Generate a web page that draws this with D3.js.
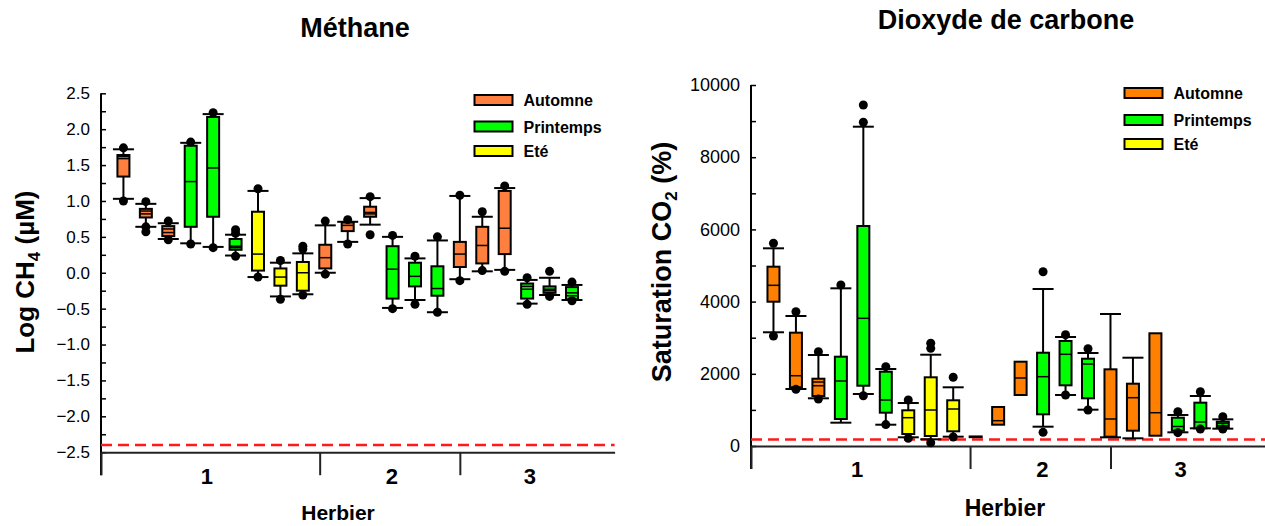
<!DOCTYPE html>
<html>
<head>
<meta charset="utf-8">
<script src="https://cdn.jsdelivr.net/npm/d3@7"></script>
<style>
  body { margin: 0; background: #fff; }
  text { font-family: "Liberation Sans", Arial, sans-serif; }
</style>
</head>
<body>
<svg id="chart" width="1265" height="526"></svg>
<script>
// Categories
const seasons = ['Automne', 'Printemps', 'Eté'];
const herbierLabels = ['1', '2', '3'];
const herbierPos = [4.7, 12.95, 19.1];
const herbierBreaks = [0, 9.75, 16];
const boxPos = [1, 2, 3, 4, 5, 6, 7, 8, 9, 10, 11, 12, 13, 14, 15, 16, 17, 18, 19, 20, 21];

// Méthane (log CH4, µM)
const ch4Season = [0, 0, 0, 1, 1, 1, 2, 2, 2, 0, 0, 0, 1, 1, 1, 0, 0, 0, 1, 1, 1];
const ch4Low  = [1.03, 0.64, 0.47, 0.41, 0.36, 0.24, -0.06, -0.33, -0.30, 0.00, 0.43, 0.67, -0.49, -0.38, -0.55, -0.09, 0.02, 0.04, -0.43, -0.31, -0.38];
const ch4Q1   = [1.34, 0.77, 0.51, 0.64, 0.78, 0.32, 0.03, -0.18, -0.25, 0.06, 0.58, 0.78, -0.36, -0.19, -0.32, 0.08, 0.13, 0.26, -0.36, -0.28, -0.37];
const ch4Med  = [1.62, 0.86, 0.61, 1.27, 1.46, 0.35, 0.26, -0.06, 0.00, 0.21, 0.66, 0.84, 0.05, -0.05, -0.22, 0.26, 0.38, 0.62, -0.19, -0.23, -0.32];
const ch4Mean = [1.59, 0.82, 0.56, null, null, 0.37, null, null, null, null, null, 0.82, null, null, null, null, null, null, -0.23, -0.25, -0.28];
const ch4Q3   = [1.64, 0.89, 0.65, 1.77, 2.17, 0.47, 0.85, 0.06, 0.15, 0.39, 0.70, 0.92, 0.37, 0.14, 0.09, 0.43, 0.64, 1.14, -0.15, -0.19, -0.20];
const ch4High = [1.72, 0.96, 0.69, 1.81, 2.21, 0.53, 1.14, 0.14, 0.27, 0.66, 0.71, 1.04, 0.50, 0.20, 0.45, 1.07, 0.78, 1.18, -0.10, -0.07, -0.17];
const ch4Out  = [[1.00, 1.74], [0.57, 0.64, 0.99], [0.46, 0.72], [0.40, 1.82], [0.35, 2.23], [0.23, 0.55, 0.60],
                 [-0.06, 1.17], [-0.37, 0.17], [-0.31, 0.33, 0.37], [-0.02, 0.72], [0.40, 0.74], [0.53, 1.06],
                 [-0.50, 0.52], [-0.44, 0.23], [-0.55, 0.50], [-0.11, 1.08], [0.03, 0.85], [0.02, 1.21],
                 [-0.44, -0.07], [-0.33, 0.02], [-0.39, -0.13]];
const ch4Limit = -2.4;
const ch4Ticks = [-2.5, -2.0, -1.5, -1.0, -0.5, 0.0, 0.5, 1.0, 1.5, 2.0, 2.5];

// Dioxyde de carbone (saturation CO2, %)
const co2Season = [0, 0, 0, 1, 1, 1, 2, 2, 2, 0, 0, 0, 1, 1, 1, 0, 0, 0, 1, 1, 1];
const co2Low  = [3150, 1579, 1321, 646, 1440, 590, 241, 185, 258, null, null, null, 535, 1413, 1006, 240, 213, null, 379, 490, 480];
const co2Q1   = [3997, 1626, 1385, 748, 1670, 923, 332, 277, 407, 245, 590, 1413, 878, 1681, 1321, 258, 424, 285, 424, 490, 517];
const co2Med  = [4451, 1947, 1670, 1801, 3537, 1274, 784, 997, 1025, 255, 701, 1884, 1920, 2540, 2271, 748, 1338, 922, 540, 665, 563];
const co2Mean = [null, null, 1773, null, null, null, null, null, null, null, null, null, null, null, null, null, null, null, null, null, 628];
const co2Q3   = [4967, 3139, 1864, 2474, 6094, 2058, 989, 1903, 1266, 265, 1080, 2335, 2584, 2909, 2418, 2124, 1726, 3122, 784, 1200, 674];
const co2High = [5476, 3601, 2521, 4368, 8845, 2133, 1191, 2529, 1626, null, null, null, 4349, 3019, 2576, 3656, 2446, null, 859, 1385, 739];
const co2Out  = [[3047, 5615], [1570, 3720], [1302, 2612], [4460], [1393, 8967, 9446], [593, 2197],
                 [213, 1274], [91, 2706, 2845], [249, 1903], [], [], [],
                 [379, 4828], [1413, 3083], [997, 2695], [], [], [],
                 [370, 950], [471, 1504], [471, 812]];
const co2Limit = 180;
const co2Ticks = [0, 2000, 4000, 6000, 8000, 10000];

const svg = d3.select('#chart');

function drawPanel(p) {
    const g = svg.append('g');

    const xScale = d3.scaleLinear().domain([0, 22.9]).range([p.left, p.right]);
    const yScale = d3.scaleLinear().domain(p.yDomain).range([p.bottom, p.top]);
    const axisY = yScale(p.yDomain[0]);

    // minor y ticks
    const minor = [];
    for (let i = 0; i < p.ticks.length - 1; i++) minor.push((p.ticks[i] + p.ticks[i + 1]) / 2);
    g.append('g')
        .attr('transform', `translate(${p.left},0)`)
        .call(d3.axisLeft(yScale).tickValues(minor).tickFormat('').tickSizeInner(-5).tickSizeOuter(0))
        .call(a => a.select('.domain').remove())
        .selectAll('line').attr('stroke-width', 1.5);

    // y axis with labels
    g.append('g')
        .attr('transform', `translate(${p.left},0)`)
        .call(d3.axisLeft(yScale).tickValues(p.ticks).tickFormat(p.fmt).tickSizeInner(-5).tickSizeOuter(0).tickPadding(11))
        .call(a => a.select('.domain').remove())
        .call(a => a.selectAll('line').attr('stroke-width', 1.5))
        .call(a => a.selectAll('text').style('font-size', p.tickFont + 'px').attr('fill', '#000')
            .style('font-family', '"Liberation Sans", Arial, sans-serif'));

    // y axis line, running down past the x axis
    g.append('line')
        .attr('x1', p.left).attr('x2', p.left)
        .attr('y1', p.top).attr('y2', axisY + 23)
        .attr('stroke', '#000').attr('stroke-width', 2);

    // x axis with herbier separators
    g.append('g')
        .attr('transform', `translate(0,${axisY})`)
        .call(d3.axisBottom(xScale).tickValues(herbierBreaks).tickFormat('').tickSizeInner(23).tickSizeOuter(0))
        .call(a => a.select('.domain').attr('stroke', '#222').attr('stroke-width', 2))
        .selectAll('line').attr('stroke', '#222').attr('stroke-width', 2);

    g.append('g')
        .attr('transform', `translate(0,${axisY})`)
        .call(d3.axisBottom(xScale).tickValues(herbierPos).tickFormat((d, i) => herbierLabels[i]).tickSize(0).tickPadding(p.groupPad))
        .call(a => a.select('.domain').remove())
        .selectAll('text')
        .style('font-size', '22px').style('font-weight', 'bold').attr('fill', '#000')
        .style('font-family', '"Liberation Sans", Arial, sans-serif');

    // detection limit
    g.append('line')
        .attr('x1', p.left).attr('x2', p.right)
        .attr('y1', yScale(p.limit)).attr('y2', yScale(p.limit))
        .attr('stroke', '#ff1a1a').attr('stroke-width', 2.5)
        .attr('stroke-dasharray', '11,6');

    const boxW = 12, capW = 21;

    boxPos.forEach((pos, i) => {
        const x = xScale(pos);
        const bx = g.append('g');

        // whiskers and caps
        [[p.low[i], p.q1[i]], [p.high[i], p.q3[i]]].forEach(([w, q]) => {
            if (w == null) return;
            bx.append('line')
                .attr('x1', x).attr('x2', x)
                .attr('y1', yScale(w)).attr('y2', yScale(q))
                .attr('stroke', '#000').attr('stroke-width', 2);
            bx.append('line')
                .attr('x1', x - capW / 2).attr('x2', x + capW / 2)
                .attr('y1', yScale(w)).attr('y2', yScale(w))
                .attr('stroke', '#000').attr('stroke-width', 2);
        });

        // box
        bx.append('rect')
            .attr('x', x - boxW / 2)
            .attr('y', yScale(p.q3[i]))
            .attr('width', boxW)
            .attr('height', Math.max(yScale(p.q1[i]) - yScale(p.q3[i]), 0.5))
            .attr('fill', p.colors[p.season[i]])
            .attr('stroke', '#000').attr('stroke-width', 2);

        // median and mean
        [p.med[i], p.mean[i]].forEach(v => {
            if (v == null) return;
            bx.append('line')
                .attr('x1', x - boxW / 2).attr('x2', x + boxW / 2)
                .attr('y1', yScale(v)).attr('y2', yScale(v))
                .attr('stroke', '#000').attr('stroke-width', 1.5);
        });

        // outliers
        bx.selectAll('circle')
            .data(p.out[i])
            .enter().append('circle')
            .attr('cx', x)
            .attr('cy', d => yScale(d))
            .attr('r', 4.5)
            .attr('fill', '#000');
    });

    // legend
    const legend = g.selectAll('.legend')
        .data(seasons)
        .enter().append('g')
        .attr('transform', (d, i) => `translate(${p.legX},${p.legY[i]})`);

    legend.append('rect')
        .attr('x', 0).attr('y', -5)
        .attr('width', 38).attr('height', 10)
        .attr('fill', (d, i) => p.colors[i])
        .attr('stroke', '#000').attr('stroke-width', 2);

    legend.append('text')
        .attr('x', 49).attr('y', 6)
        .style('font-size', '16px').style('font-weight', 'bold')
        .text(d => d);

    // title
    g.append('text')
        .attr('x', p.titleX).attr('y', p.titleY)
        .attr('text-anchor', 'middle')
        .style('font-size', '27px').style('font-weight', 'bold')
        .text(p.title);

    // x label
    g.append('text')
        .attr('x', p.xLabX).attr('y', p.xLabY)
        .attr('text-anchor', 'middle')
        .style('font-size', p.xLabFont + 'px').style('font-weight', 'bold')
        .text('Herbier');

    // y label with subscript
    const yl = g.append('text')
        .attr('transform', `translate(${p.yLabX},${p.yLabY}) rotate(-90)`)
        .attr('text-anchor', 'middle')
        .style('font-size', p.yLabFont + 'px').style('font-weight', 'bold');
    yl.append('tspan').text(p.yLab[0]);
    yl.append('tspan').attr('dy', 6).style('font-size', '17px').text(p.yLab[1]);
    yl.append('tspan').attr('dy', -6).text(p.yLab[2]);
}

drawPanel({
    left: 101, right: 614.6, top: 93.3, bottom: 452.2,
    yDomain: [-2.5, 2.5], ticks: ch4Ticks, fmt: d3.format('.1f'), tickFont: 17,
    season: ch4Season, low: ch4Low, q1: ch4Q1, med: ch4Med, mean: ch4Mean, q3: ch4Q3, high: ch4High, out: ch4Out,
    limit: ch4Limit,
    colors: ['#ff7f3f', '#00ff00', '#ffff00'],
    groupPad: 16,
    legX: 474.5, legY: [100, 126.5, 151],
    title: 'Méthane', titleX: 355, titleY: 37,
    xLabX: 338, xLabY: 520, xLabFont: 21,
    yLab: ['Log CH', '4', ' (µM)'], yLabX: 34, yLabY: 272, yLabFont: 26
});

drawPanel({
    left: 751, right: 1265.5, top: 85, bottom: 446,
    yDomain: [0, 10000], ticks: co2Ticks, fmt: d3.format('d'), tickFont: 18,
    season: co2Season, low: co2Low, q1: co2Q1, med: co2Med, mean: co2Mean, q3: co2Q3, high: co2High, out: co2Out,
    limit: co2Limit,
    colors: ['#ff8000', '#00ff00', '#ffff00'],
    groupPad: 15,
    legX: 1124.5, legY: [93, 120, 144],
    title: 'Dioxyde de carbone', titleX: 1006, titleY: 29,
    xLabX: 1005, xLabY: 516, xLabFont: 23,
    yLab: ['Saturation CO', '2', ' (%)'], yLabX: 671, yLabY: 262, yLabFont: 27
});
</script>
</body>
</html>
